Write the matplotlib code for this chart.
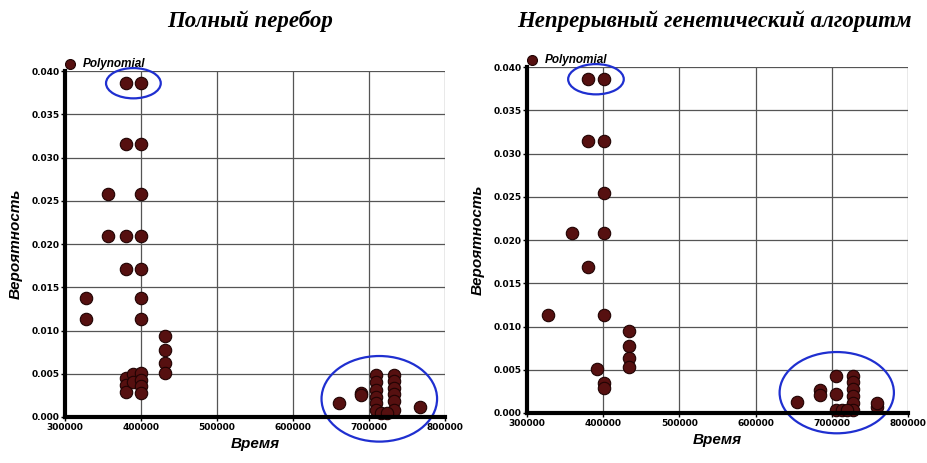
import numpy as np
import matplotlib
matplotlib.use("Agg")
import matplotlib.pyplot as plt
from matplotlib.patches import Ellipse

# values (time, probability)
# left chart: full search
full_x = [380000, 400000, 380000, 400000, 357000, 400000,
          357000, 380000, 400000, 380000, 400000,
          327000, 400000, 327000, 400000,
          432000, 432000, 432000, 432000,
          380000, 380000, 380000, 390000, 390000,
          400000, 400000, 400000, 400000,
          660000, 690000, 690000,
          709000, 709000, 709000, 709000, 709000, 709000,
          733000, 733000, 733000, 733000, 733000, 733000,
          716000, 724000, 767000]
full_y = [0.0386, 0.0386, 0.0316, 0.0316, 0.0258, 0.0258,
          0.0209, 0.0209, 0.0209, 0.0171, 0.0171,
          0.0138, 0.0138, 0.0113, 0.0113,
          0.0094, 0.0078, 0.0063, 0.0051,
          0.0045, 0.0037, 0.0029, 0.0050, 0.0040,
          0.0051, 0.0043, 0.0036, 0.0028,
          0.0016, 0.0028, 0.0025,
          0.0049, 0.0040, 0.0031, 0.0023, 0.0016, 0.0008,
          0.0049, 0.0042, 0.0034, 0.0026, 0.0018, 0.0008,
          0.0005, 0.0005, 0.0012]

# right chart: continuous genetic algorithm
ga_x = [380000, 401000, 380000, 401000, 401000,
        359000, 401000, 380000,
        327000, 401000,
        434000, 434000, 434000, 434000,
        392000, 401000, 401000,
        654000, 684000, 684000,
        706000, 706000, 706000,
        728000, 728000, 728000, 728000, 728000, 728000,
        714000, 720000, 759000, 759000]
ga_y = [0.0386, 0.0386, 0.0314, 0.0314, 0.0255,
        0.0208, 0.0208, 0.0169,
        0.0113, 0.0113,
        0.0095, 0.0078, 0.0064, 0.0053,
        0.0051, 0.0035, 0.0029,
        0.0013, 0.0027, 0.0021,
        0.0043, 0.0022, 0.0004,
        0.0043, 0.0036, 0.0028, 0.0020, 0.0012, 0.0004,
        0.0004, 0.0004, 0.0007, 0.0011]

titles = ["Полный перебор", "Непрерывный генетический алгоритм"]
x_ticks = [300000, 400000, 500000, 600000, 700000, 800000]
y_ticks = [0.000, 0.005, 0.010, 0.015, 0.020, 0.025, 0.030, 0.035, 0.040]

fig = plt.figure(figsize=(9.27, 4.63), dpi=100)
ax1 = fig.add_axes([0.0701, 0.0994, 0.410, 0.747])
ax2 = fig.add_axes([0.5685, 0.108, 0.411, 0.747])


def ring(ax, xs, ys, pad_x, pad_y, dy=0.0):
    # blue ellipse drawn around a group of points
    xs = np.asarray(xs)
    ys = np.asarray(ys)
    cx = (xs.min() + xs.max()) / 2
    cy = (ys.min() + ys.max()) / 2 + dy
    w = xs.max() - xs.min() + pad_x
    h = ys.max() - ys.min() + pad_y
    e = Ellipse((cx, cy), w, h, fill=False, edgecolor='#1f2fd0', lw=1.6,
                clip_on=False, zorder=5)
    ax.add_patch(e)


def draw(ax, xs, ys, title, title_x, ring_dy):
    xs = np.asarray(xs)
    ys = np.asarray(ys)
    ax.scatter(xs, ys, s=80, facecolor='#561010', edgecolor='#200303',
               linewidths=0.8, zorder=4, clip_on=False, label='Polynomial')
    ax.set_xlim(300000, 800000)
    ax.set_ylim(0, 0.040)
    ax.set_xticks(x_ticks)
    ax.set_yticks(y_ticks)
    ax.set_xticklabels([str(t) for t in x_ticks])
    ax.set_yticklabels(['%.3f' % t for t in y_ticks])
    ax.grid(True, color='#555555', lw=0.9)
    ax.set_axisbelow(True)
    for side in ['top', 'right']:
        ax.spines[side].set_visible(False)
    for side in ['left', 'bottom']:
        ax.spines[side].set_linewidth(3)
        ax.spines[side].set_zorder(6)
    ax.tick_params(labelsize=6.5, length=3, width=1, pad=1)
    for lab in ax.get_xticklabels() + ax.get_yticklabels():
        lab.set_fontweight('bold')
    ax.set_xlabel('Время', fontsize=11, fontweight='bold', style='italic',
                  family='Liberation Sans', labelpad=4)
    ax.set_ylabel('Вероятность', fontsize=11, fontweight='bold', style='italic',
                  family='Liberation Sans', labelpad=6)
    fig.text(title_x, 0.955, title, ha='center', va='center', fontsize=16.5,
             fontweight='bold', style='italic', family='Liberation Serif')
    ax.legend(loc='lower left', bbox_to_anchor=(-0.03, 0.99), frameon=False,
              prop={'family': 'Liberation Sans', 'weight': 'bold',
                    'style': 'italic', 'size': 8.5},
              handletextpad=0.1, borderaxespad=0, markerscale=0.8)
    top = ys > 0.035
    ring(ax, xs[top], ys[top], 52000, 0.0035)
    far = xs > 600000
    ring(ax, xs[far], ys[far], 45000, 0.0055, ring_dy)


draw(ax1, full_x, full_y, titles[0], 0.27, -0.0006)
draw(ax2, ga_x, ga_y, titles[1], 0.771, 0.0)

fig.savefig('out.png', dpi=100)
